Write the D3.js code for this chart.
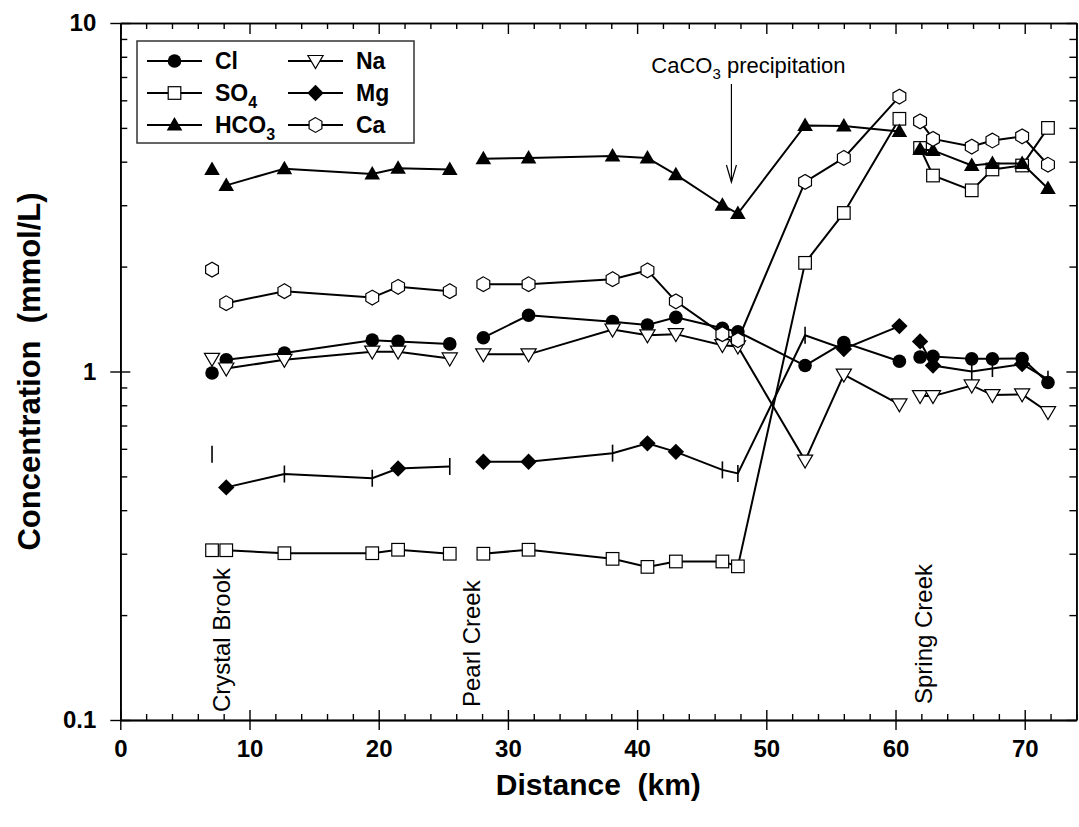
<!DOCTYPE html>
<html>
<head>
<meta charset="utf-8">
<script src="https://cdn.jsdelivr.net/npm/d3@7"></script>
<style>
  body { margin: 0; background: #fff; }
  svg { font-family: "Liberation Sans", Arial, sans-serif; }
</style>
</head>
<body>
<script>
// distance downstream (km) and the stream reach each sample belongs to
const distance = [7.1, 8.2, 12.7, 19.5, 21.5, 25.5, 28.1, 31.6, 38.1, 40.8, 43.0, 46.6, 47.8, 53.0, 56.0, 60.3, 61.9, 62.9, 65.9, 67.5, 69.8, 71.8];
const reach    = [0, 1, 1, 1, 1, 1, 2, 2, 2, 2, 2, 2, 2, 2, 2, 2, 3, 3, 3, 3, 3, 3];

// concentrations (mmol/L)
const cl   = [0.99, 1.08, 1.13, 1.23, 1.22, 1.20, 1.25, 1.45, 1.39, 1.36, 1.43, 1.33, 1.30, 1.04, 1.21, 1.07, 1.10, 1.105, 1.087, 1.087, 1.09, 0.93];
const so4  = [0.307, 0.307, 0.301, 0.301, 0.308, 0.300, 0.300, 0.308, 0.290, 0.275, 0.285, 0.285, 0.276, 2.05, 2.85, 5.31, 4.38, 3.65, 3.31, 3.80, 3.90, 5.0];
const hco3 = [3.80, 3.42, 3.82, 3.69, 3.83, 3.80, 4.08, 4.10, 4.15, 4.10, 3.67, 3.00, 2.84, 5.08, 5.06, 4.88, 4.34, 4.31, 3.90, 3.95, 3.95, 3.35];
const na   = [1.087, 1.02, 1.08, 1.14, 1.14, 1.09, 1.12, 1.12, 1.32, 1.27, 1.28, 1.19, 1.18, 0.555, 0.98, 0.805, 0.85, 0.85, 0.912, 0.856, 0.86, 0.765];
const mg   = [0.579, 0.465, 0.508, 0.494, 0.527, 0.534, 0.551, 0.551, 0.583, 0.622, 0.588, 0.522, 0.51, 1.27, 1.16, 1.35, 1.22, 1.04, 1.0, 1.02, 1.05, 0.95];
const ca   = [1.96, 1.57, 1.70, 1.63, 1.75, 1.70, 1.78, 1.78, 1.84, 1.95, 1.59, 1.28, 1.23, 3.5, 4.1, 6.15, 5.22, 4.65, 4.42, 4.60, 4.73, 3.92];
// Mg samples shown without the diamond symbol in the original
const mgEstimated = [1, 0, 1, 1, 0, 1, 0, 0, 1, 0, 0, 1, 1, 1, 0, 0, 0, 0, 1, 1, 0, 1];

const xTicks = [0, 10, 20, 30, 40, 50, 60, 70];
const yTicks = [0.1, 1, 10];
const yTickLabels = ["0.1", "1", "10"];

const tributaries = [
  { name: "Crystal Brook", km: 7.9, base: 712 },
  { name: "Pearl Creek", km: 27.2, base: 707 },
  { name: "Spring Creek", km: 62.2, base: 704 }
];

const width = 1079, height = 827;
const svg = d3.select("body").append("svg")
  .attr("width", width)
  .attr("height", height);

const x = d3.scaleLinear().domain([0, 74]).range([120.3, 1076.4]);
const y = d3.scaleLog().domain([0.1, 10]).range([720, 23]);
const x0 = x.range()[0], x1 = x.range()[1];
const yb = y.range()[0], yt = y.range()[1];

// ---- axes and frame ----
const minorX = d3.range(0, 75, 2).filter(d => d % 10 !== 0);
const minorY = [0.2, 0.3, 0.4, 0.5, 0.6, 0.7, 0.8, 0.9, 2, 3, 4, 5, 6, 7, 8, 9];

function frameAxis(axis, tf) {
  const g = svg.append("g").attr("transform", tf).call(axis);
  g.selectAll("path, line").attr("stroke", "#000").attr("stroke-width", 1.4);
  return g;
}

// bottom: labelled major ticks outward, plus inward major and minor ticks
const bottom = frameAxis(d3.axisBottom(x).tickValues(xTicks).tickSize(10).tickSizeOuter(0).tickPadding(10), `translate(0,${yb})`);
bottom.selectAll("text").attr("font-size", 24).attr("font-weight", "bold").attr("fill", "#000");
frameAxis(d3.axisBottom(x).tickValues(xTicks).tickSize(-10).tickSizeOuter(0).tickFormat(""), `translate(0,${yb})`);
frameAxis(d3.axisBottom(x).tickValues(minorX).tickSize(-6).tickSizeOuter(0).tickFormat(""), `translate(0,${yb})`);

// top
frameAxis(d3.axisTop(x).tickValues(xTicks).tickSize(-11).tickSizeOuter(0).tickFormat(""), `translate(0,${yt})`);
frameAxis(d3.axisTop(x).tickValues(minorX).tickSize(-6).tickSizeOuter(0).tickFormat(""), `translate(0,${yt})`);

// left
const left = frameAxis(d3.axisLeft(y).tickValues(yTicks).tickSize(10).tickSizeOuter(0).tickPadding(14)
  .tickFormat((d, i) => yTickLabels[i]), `translate(${x0},0)`);
left.selectAll("text").attr("font-size", 24).attr("font-weight", "bold").attr("fill", "#000");
frameAxis(d3.axisLeft(y).tickValues(yTicks).tickSize(-10).tickSizeOuter(0).tickFormat(""), `translate(${x0},0)`);
frameAxis(d3.axisLeft(y).tickValues(minorY).tickSize(-7).tickSizeOuter(0).tickFormat(""), `translate(${x0},0)`);

// right
frameAxis(d3.axisRight(y).tickValues(yTicks).tickSize(-10).tickSizeOuter(0).tickFormat(""), `translate(${x1},0)`);
frameAxis(d3.axisRight(y).tickValues(minorY).tickSize(-7).tickSizeOuter(0).tickFormat(""), `translate(${x1},0)`);
svg.selectAll(".domain").attr("stroke-width", 1.5);

// axis titles
svg.append("text")
  .attr("x", (x0 + x1) / 2)
  .attr("y", 795)
  .attr("text-anchor", "middle")
  .attr("font-size", 30).attr("font-weight", "bold")
  .text("Distance\u00a0\u00a0(km)");

svg.append("text")
  .attr("transform", `translate(40,${(yb + yt) / 2}) rotate(-90)`)
  .attr("text-anchor", "middle")
  .attr("font-size", 31).attr("font-weight", "bold")
  .text("Concentration\u00a0\u00a0(mmol/L)");

// ---- markers ----
function drawMarker(g, type, cx, cy) {
  if (type === "circle") {
    g.append("circle").attr("cx", cx).attr("cy", cy).attr("r", 6.8).attr("fill", "#000");
  } else if (type === "square") {
    g.append("rect").attr("x", cx - 6.3).attr("y", cy - 6.3).attr("width", 12.6).attr("height", 12.6)
      .attr("fill", "#fff").attr("stroke", "#000").attr("stroke-width", 1.2);
  } else if (type === "triUp") {
    g.append("path").attr("d", `M${cx},${cy - 8}L${cx + 7.8},${cy + 5.5}L${cx - 7.8},${cy + 5.5}Z`).attr("fill", "#000");
  } else if (type === "triDown") {
    g.append("path").attr("d", `M${cx - 7.6},${cy - 5.5}L${cx + 7.6},${cy - 5.5}L${cx},${cy + 7.5}Z`)
      .attr("fill", "#fff").attr("stroke", "#000").attr("stroke-width", 1.2);
  } else if (type === "diamond") {
    g.append("path").attr("d", `M${cx},${cy - 8.2}L${cx + 8.2},${cy}L${cx},${cy + 8.2}L${cx - 8.2},${cy}Z`).attr("fill", "#000");
  } else if (type === "hexagon") {
    const r = 7.4;
    const pts = d3.range(6).map(k => {
      const a = Math.PI / 2 + k * Math.PI / 3;
      return [cx + r * Math.cos(a), cy - r * Math.sin(a)];
    });
    g.append("path").attr("d", "M" + pts.join("L") + "Z")
      .attr("fill", "#fff").attr("stroke", "#000").attr("stroke-width", 1.2);
  } else if (type === "tick") {
    g.append("line").attr("x1", cx).attr("x2", cx).attr("y1", cy - 8.5).attr("y2", cy + 8.5)
      .attr("stroke", "#000").attr("stroke-width", 1.6);
  }
}

const series = [
  { label: "Cl", sub: "", values: cl, marker: "circle" },
  { label: "SO", sub: "4", values: so4, marker: "square" },
  { label: "HCO", sub: "3", values: hco3, marker: "triUp" },
  { label: "Na", sub: "", values: na, marker: "triDown" },
  { label: "Mg", sub: "", values: mg, marker: "diamond", alt: mgEstimated },
  { label: "Ca", sub: "", values: ca, marker: "hexagon" }
];

const plot = svg.append("g");
const line = d3.line().x(d => x(d.km)).y(d => y(d.v));

series.forEach(s => {
  const pts = distance.map((km, i) => ({ km, v: s.values[i], reach: reach[i], alt: s.alt ? s.alt[i] : 0 }));
  const g = plot.append("g");
  d3.groups(pts, d => d.reach).forEach(([, seg]) => {
    if (seg.length > 1) {
      g.append("path").attr("d", line(seg))
        .attr("fill", "none").attr("stroke", "#000").attr("stroke-width", 2);
    }
  });
  pts.forEach(p => drawMarker(g, p.alt ? "tick" : s.marker, x(p.km), y(p.v)));
});

// ---- annotations ----
tributaries.forEach(t => {
  svg.append("text")
    .attr("transform", `translate(${x(t.km) + 8},${t.base}) rotate(-90)`)
    .attr("font-size", 24)
    .text(t.name);
});

const arrowX = x(47.3);
const ann = svg.append("text").attr("x", arrowX + 17).attr("y", 73)
  .attr("text-anchor", "middle").attr("font-size", 22);
ann.append("tspan").text("CaCO");
ann.append("tspan").attr("font-size", 15).attr("dy", 6).text("3");
ann.append("tspan").attr("dy", -6).text(" precipitation");

svg.append("line").attr("x1", arrowX).attr("x2", arrowX).attr("y1", 84).attr("y2", 182)
  .attr("stroke", "#000").attr("stroke-width", 1.2);
svg.append("path").attr("d", `M${arrowX - 5},${165}L${arrowX},${182}L${arrowX + 5},${165}`)
  .attr("fill", "none").attr("stroke", "#000").attr("stroke-width", 1.2);

// ---- legend ----
const legend = svg.append("g");
legend.append("rect").attr("x", 137).attr("y", 41).attr("width", 277).attr("height", 102)
  .attr("fill", "#fff").attr("stroke", "#333").attr("stroke-width", 1.5);

series.forEach((s, i) => {
  const col = Math.floor(i / 3), row = i % 3;
  const lx = col === 0 ? 147 : 288;
  const ly = 61 + row * 32;
  legend.append("line").attr("x1", lx).attr("x2", lx + 55).attr("y1", ly).attr("y2", ly)
    .attr("stroke", "#000").attr("stroke-width", 2);
  drawMarker(legend, s.marker, lx + 27.5, ly);
  const t = legend.append("text").attr("x", lx + 68).attr("y", ly + 8)
    .attr("font-size", 23).attr("font-weight", "bold");
  t.append("tspan").text(s.label);
  if (s.sub) t.append("tspan").attr("font-size", 16).attr("dy", 7).text(s.sub);
});
</script>
</body>
</html>
